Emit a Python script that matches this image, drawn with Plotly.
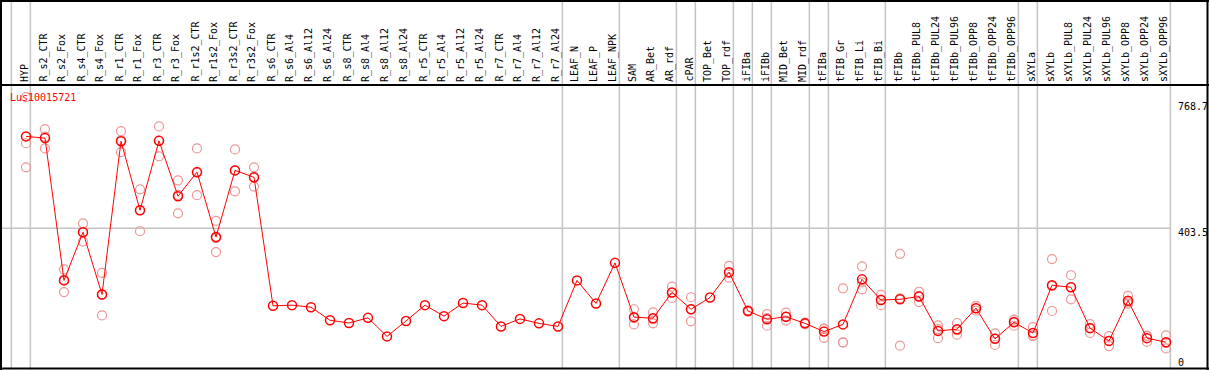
import plotly.graph_objects as go

W, H = 1209, 370

categories = ["HYP", "R_s2_CTR", "R_s2_Fox", "R_s4_CTR", "R_s4_Fox", "R_r1_CTR", "R_r1_Fox",
              "R_r3_CTR", "R_r3_Fox", "R_r1s2_CTR", "R_r1s2_Fox", "R_r3s2_CTR", "R_r3s2_Fox",
              "R_s6_CTR", "R_s6_Al4", "R_s6_Al12", "R_s6_Al24", "R_s8_CTR", "R_s8_Al4", "R_s8_Al12",
              "R_s8_Al24", "R_r5_CTR", "R_r5_Al4", "R_r5_Al12", "R_r5_Al24", "R_r7_CTR", "R_r7_Al4",
              "R_r7_Al12", "R_r7_Al24", "LEAF_N", "LEAF_P", "LEAF_NPK", "SAM", "AR_Bet", "AR_rdf",
              "cPAR", "TOP_Bet", "TOP_rdf", "iFIBa", "iFIBb", "MID_Bet", "MID_rdf", "tFIBa",
              "tFIB_Gr", "tFIB_Li", "tFIB_Bi", "tFIBb", "tFIBb_PUL8", "tFIBb_PUL24", "tFIBb_PUL96",
              "tFIBb_OPP8", "tFIBb_OPP24", "tFIBb_OPP96", "sXYLa", "sXYLb", "sXYLb_PUL8",
              "sXYLb_PUL24", "sXYLb_PUL96", "sXYLb_OPP8", "sXYLb_OPP24", "sXYLb_OPP96"]

means = [671, 666, 252, 392, 211, 657, 456, 658, 497, 567, 378, 572, 552,
         178, 180, 174, 136, 128, 143, 89, 134, 180, 148, 186, 180, 118, 140, 127, 118,
         252, 185, 303, 145, 142, 217, 168, 202, 276, 163, 139, 146, 127, 103,
         124, 255, 195, 197, 205, 105, 110, 171, 82, 130, 99, 238, 232, 113, 76, 193, 84, 72]

rep1 = [785, 692, 284, 418, 274, 686, 517, 700, 543, 636, 425, 633, 581,
        None, None, None, None, None, None, None, None, None, None, None, None, None, None, None, None,
        None, None, None, 168, 159, 234, 203, None, 294, 165, 154, 158, 129, 111,
        229, 293, 210, 329, 219, 121, 128, 178, 98, 138, 116, 314, 267, 125, 90, 207, 91, 92]
rep2 = [651, 636, 218, 365, 150, 625, 395, 613, 447, 500, 334, 511, 525,
        None, None, None, None, None, None, None, None, None, None, None, None, None, None, None, None,
        None, None, None, 124, 127, 201, 133, None, 260, 161, 120, 135, 125, 85,
        72, 226, 180, 62, 189, 84, 94, 164, 64, 120, 92, 163, 197, 99, 61, 184, 73, 54]
rep3 = [581, 670, 254, 393, 211, 660, 456, 659, 501, 565, 375, 572, 550,
        None, None, None, None, None, None, None, None, None, None, None, None, None, None, None, None,
        None, None, None, 142, 139, 216, 168, None, 273, 163, 142, 146, 127, 112,
        71, 246, 196, 200, 206, 110, 107, 171, 83, 132, 90, 236, 232, 114, 76, 188, 90, 70]

axis_labels = ["768.7", "403.5", "0"]
axis_values = [768.7, 403.5, 0]
gene = "Lus10015721"
group_ends = [-1, 0, 28, 31, 34, 35, 37, 38, 39, 41, 42, 45, 52, 53, 60]

idx = list(range(len(categories)))

# pixel mapping helpers (layout only)
X0, DX = 26.0, 19.0
XMIN = -X0 / DX
XMAX = (W - X0) / DX
HEADER = 85
Y_ZERO_PX, Y_SCALE = 367.0, 0.3437
YMIN = (Y_ZERO_PX - H) / Y_SCALE
YMAX = (Y_ZERO_PX - HEADER) / Y_SCALE


def py(p):
    return 1 - p / H


def px(p):
    return p / W


rx, ry = [], []
for i in idx:
    for r in (rep1[i], rep2[i], rep3[i]):
        if r is not None:
            rx.append(i)
            ry.append(r)

fig = go.Figure()
fig.add_trace(go.Scatter(x=rx, y=ry, mode="markers", hoverinfo="skip",
                         marker=dict(symbol="circle-open", size=9, color="rgb(236,150,150)",
                                     line=dict(width=1.2))))
fig.add_trace(go.Scatter(x=idx, y=means, mode="lines+markers",
                         line=dict(color="red", width=1),
                         marker=dict(symbol="circle-open", size=9, color="red",
                                     line=dict(width=1.5))))

shapes = []
for g in group_ends:
    shapes.append(dict(type="line", xref="x", yref="paper", x0=g + 0.23, x1=g + 0.23,
                       y0=0, y1=1, line=dict(color="#c4c4c4", width=1.5), layer="below"))
shapes.append(dict(type="line", xref="x", yref="y", x0=XMIN, x1=group_ends[-1] + 0.23,
                   y0=axis_values[1], y1=axis_values[1],
                   line=dict(color="#c4c4c4", width=1.5), layer="below"))
for yp in (1, HEADER, H - 1.5):
    shapes.append(dict(type="line", xref="paper", yref="paper", x0=0, x1=1,
                       y0=py(yp), y1=py(yp), line=dict(color="black", width=2)))
for xp in (1, W - 1.5):
    shapes.append(dict(type="line", xref="paper", yref="paper", x0=px(xp), x1=px(xp),
                       y0=0, y1=1, line=dict(color="black", width=2)))

annotations = []
for i, c in zip(idx, categories):
    annotations.append(dict(x=i - 0.1, y=py(HEADER - 1), xref="x", yref="paper",
                            text=c, textangle=-90, showarrow=False,
                            xanchor="center", yanchor="bottom",
                            font=dict(family="DejaVu Sans Mono", size=10, color="black")))
shifts = [-4, -4, 5]
for lab, v, s in zip(axis_labels, axis_values, shifts):
    annotations.append(dict(x=px(1176), y=v, xref="paper", yref="y", text=lab,
                            showarrow=False, xanchor="left", yanchor="middle", yshift=s,
                            font=dict(family="DejaVu Sans Mono", size=10, color="black")))
annotations.append(dict(x=px(8), y=py(97), xref="paper", yref="paper", text=gene,
                        showarrow=False, xanchor="left", yanchor="middle",
                        font=dict(family="DejaVu Sans Mono", size=10, color="red")))

fig.update_layout(
    width=W, height=H, margin=dict(l=0, r=0, t=0, b=0),
    paper_bgcolor="white", plot_bgcolor="white", showlegend=False,
    xaxis=dict(range=[XMIN, XMAX], visible=False, domain=[0, 1]),
    yaxis=dict(range=[YMIN, YMAX], visible=False, domain=[0, 1 - HEADER / H]),
    shapes=shapes, annotations=annotations,
)
fig.write_html("out.html", config={"displayModeBar": False})

# remove the default page margin so the figure sits at the window's top-left corner
with open("out.html", encoding="utf-8") as f:
    html = f.read()
html = html.replace("<head>", "<head><style>html,body{margin:0;padding:0;overflow:hidden}</style>", 1)
with open("out.html", "w", encoding="utf-8") as f:
    f.write(html)
